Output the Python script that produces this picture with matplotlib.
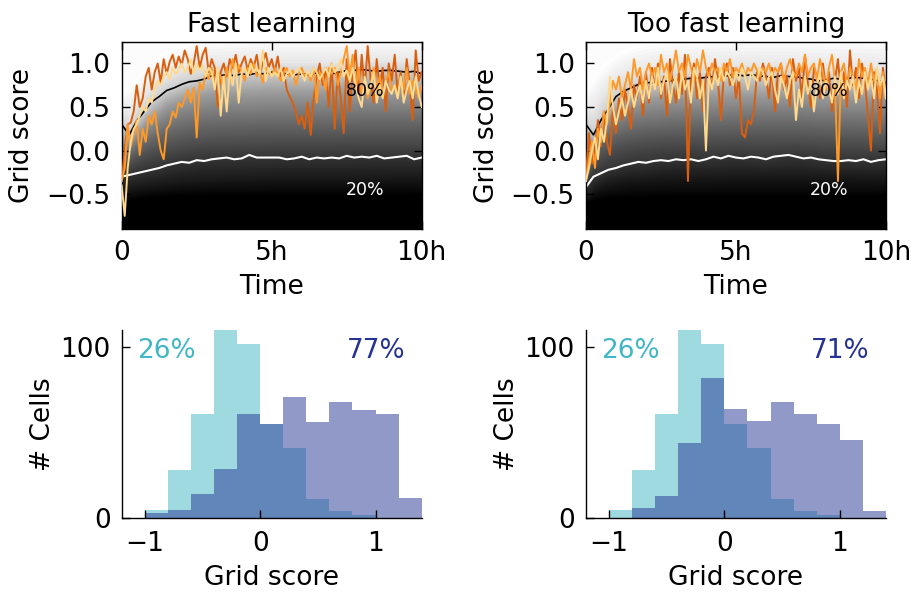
import matplotlib as mpl
mpl.use('Agg')
import matplotlib.pyplot as plt
import numpy as np

# ---- grid score traces of three example cells (every 0.1 h, 0..10 h)
fast_dark = [-0.35, 0.0, 0.3, 0.32, 0.45, 0.75, 0.5, 0.6, 0.85, 0.95, 0.7,
             0.9, 1.0, 0.78, 1.05, 0.88, 1.02, 1.1, 0.95, 1.08, 0.98,
             1.15, 1.05, 0.88, 1.0, 1.2, 0.95, 1.1, 1.18, 0.9, 1.05,
             0.95, 0.5, 0.9, 1.0, 0.85, 1.05, 0.95, 1.1, 0.9, 1.0,
             1.08, 0.92, 1.05, 0.95, 1.1, 0.88, 1.0, 1.12, 0.95, 1.05,
             0.9, 1.08, 0.85, 0.95, 0.7, 0.62, 0.55, 0.45, 0.3, 0.4,
             0.25, 0.55, 0.18, 0.6, 0.85, 1.0, 0.75, 0.95, 0.5, 1.0,
             0.25, 0.9, 0.6, 0.2, 1.05, 0.45, 0.9, 1.15, 0.6, 1.1,
             0.7, 1.2, 0.8, 0.55, 1.05, 0.7, 0.95, 0.45, 1.0, 0.8,
             1.1, 0.65, 0.9, 0.6, 1.05, 0.75, 0.35, 1.15, 0.8, 0.9]
fast_mid = [-0.35, -0.2, 0.3, 0.05, 0.2, 0.35, -0.05, 0.25, 0.1, 0.4, 0.3,
            0.45, 0.2, 0.0, -0.1, 0.25, 0.3, 0.45, 0.38, 0.55, 0.5,
            0.6, 0.7, 0.55, 0.72, 0.15, 0.78, 0.7, 0.9, 0.82, 0.95,
            0.75, 0.9, 0.85, 0.7, 0.95, 0.8, 1.05, 0.85, 0.98, 0.9,
            0.8, 0.95, 0.88, 1.0, 0.85, 0.92, 0.78, 0.95, 0.9, 0.85,
            0.95, 0.88, 0.8, 0.9, 0.95, 0.85, 0.92, 0.75, 0.88, 0.95,
            0.85, 0.9, 0.8, 0.95, 0.55, 0.9, 0.85, 0.7, 0.95, 0.88,
            0.95, 0.75, 0.9, 1.05, 1.2, 0.85, 1.1, 0.7, 0.95, 0.65,
            0.8, 0.6, 0.75, 0.95, 0.7, 0.85, 0.65, 0.78, 0.9, 0.7,
            0.75, 0.6, 0.85, 0.7, 0.95, 0.65, 0.8, 0.72, 0.6, 0.75]
fast_light = [-0.4, -0.75, -0.2, 0.1, 0.25, 0.3, 0.4, 0.5, 0.45, 0.6, 0.55,
              0.7, 0.8, 0.75, 0.85, 0.9, 0.82, 0.95, 0.88, 0.92, 1.0,
              0.9, 0.95, 1.05, 0.88, 1.0, 0.92, 0.98, 0.85, 0.95, 0.9,
              0.7, 0.95, 0.4, 0.85, 0.45, 0.9, 0.75, 1.0, 0.55, 0.9,
              0.95, 0.85, 1.0, 0.9, 0.95, 0.88, 1.15, 0.8, 0.95, 0.85,
              0.9, 0.85, 0.95, 0.8, 0.88, 0.92, 0.85, 0.9, 0.95, 0.88,
              0.8, 0.92, 0.85, 0.95, 0.9, 0.82, 0.88, 0.95, 0.85, 1.0,
              0.9, 0.95, 1.05, 0.85, 0.92, 0.8, 0.95, 0.75, 0.6, 0.5,
              0.85, 0.65, 0.75, 0.9, 0.55, 0.75, 0.6, 0.8, 0.7, 0.65,
              0.75, 0.6, 0.85, 0.55, 0.7, 0.8, 0.6, 0.85, 0.65, 0.5]

tfast_dark = [-0.3, 0.2, -0.15, 0.0, 0.35, 0.05, 0.45, 0.1, -0.05, 0.5, 0.2,
              0.6, 0.35, 0.7, 0.5, 0.25, 0.75, 0.6, 0.85, 0.4, 0.9,
              0.55, 0.95, 0.7, 1.0, 0.6, 0.85, 0.4, 1.05, 0.75, 0.55,
              0.9, 0.65, 1.1, -0.35, 0.8, 1.0, 0.6, 0.9, 0.45, 0.85,
              0.95, 0.7, 1.05, 0.8, 0.35, 0.9, 1.0, 0.75, 0.95, 0.6,
              0.85, 0.2, 0.15, 0.35, 0.3, 0.45, 0.9, 0.8, 1.0, 0.85,
              0.6, 0.95, 0.45, 0.9, 1.0, 0.7, 0.85, 0.5, 1.05, 0.8,
              0.95, 0.6, 1.1, 0.75, 0.5, 0.95, 0.85, 0.6, 1.0, 0.7,
              0.9, 0.45, 0.8, 1.05, 0.65, 0.9, 0.5, 1.15, 0.75, 0.95,
              0.6, 1.0, 0.8, 0.4, 0.0, 0.9, 0.7, 0.2, 0.95, 0.65]
tfast_mid = [-0.35, -0.1, 0.1, -0.2, 0.25, 0.1, 0.45, 0.3, 0.55, 0.8, 0.7,
             0.85, 0.6, 0.75, 0.9, 0.7, 1.05, 0.85, 0.95, 0.7, 0.9,
             1.0, 0.85, 0.95, 0.75, 1.1, 0.9, 1.0, 0.8, 0.95, 1.15,
             0.9, 1.0, 0.85, 1.1, 0.95, 0.8, 1.05, 0.9, 1.15, 0.95,
             0.85, 1.0, 0.9, 0.95, 0.8, 1.0, 0.9, 1.05, 0.85, 0.95,
             0.9, 1.0, 0.85, 0.95, 0.9, 1.0, 0.92, 0.85, 0.95, 0.9,
             1.0, 0.85, 0.95, 0.9, 1.0, 0.8, 0.95, 1.05, 0.9, 0.85,
             1.0, 0.9, 1.1, 0.85, 0.95, 1.0, 0.8, 1.05, 0.9, 0.7,
             0.95, 1.1, 0.8, -0.35, 0.9, 1.0, 0.75, 0.95, 0.85, 0.7,
             1.05, 0.85, 0.95, 0.75, 1.0, 0.8, 0.95, 0.6, 0.9, 0.6]
tfast_light = [-0.35, -0.2, 0.0, 0.15, -0.1, 0.25, 0.1, 0.35, 0.85, 0.5, 0.3,
               0.45, 0.6, 0.4, 0.55, 0.7, 0.5, 0.65, 0.75, 0.55, 0.8,
               0.6, 0.85, 0.7, 0.95, 0.65, 0.8, 0.9, 0.55, 0.75, 0.85,
               0.6, 0.9, 0.7, 0.8, 0.55, 0.95, 0.85, 0.6, 0.8, 0.0,
               0.85, 0.7, 0.9, 0.75, 0.95, 0.8, 0.9, 0.85, 0.75, 0.9,
               0.8, 0.95, 0.85, 0.7, 0.9, 0.85, 0.8, 0.95, 0.9, 0.75,
               0.85, 0.9, 0.7, 0.55, 0.85, 0.75, 0.6, 0.8, 0.9, 0.35,
               0.7, 0.5, 0.85, 0.65, 0.8, 0.45, 0.75, 0.9, 0.6, 0.8,
               0.7, 0.55, 0.85, 0.65, 0.9, 0.6, 0.8, 0.7, 0.85, 0.55,
               0.8, 0.65, 0.9, 0.7, 0.85, 0.6, 0.95, 0.75, 0.85, 0.6]

# ---- 80% / 20% percentile lines (every 0.25 h)
fast_p80 = [0.3, 0.18, 0.34, 0.45, 0.56, 0.62, 0.69, 0.72, 0.76, 0.79, 0.8,
            0.82, 0.86, 0.86, 0.87, 0.86, 0.88, 0.87, 0.89, 0.88, 0.9,
            0.89, 0.88, 0.87, 0.88, 0.87, 0.89, 0.88, 0.88, 0.9, 0.92,
            0.92, 0.93, 0.92, 0.91, 0.92, 0.92, 0.91, 0.9, 0.91, 0.88]
fast_p20 = [-0.3, -0.28, -0.26, -0.24, -0.22, -0.2, -0.17, -0.15, -0.13, -0.14, -0.11,
            -0.12, -0.1, -0.09, -0.08, -0.1, -0.09, -0.05, -0.08, -0.08, -0.08,
            -0.08, -0.1, -0.09, -0.07, -0.1, -0.08, -0.09, -0.08, -0.09, -0.06,
            -0.08, -0.07, -0.08, -0.06, -0.09, -0.08, -0.07, -0.06, -0.1, -0.08]
tfast_p80 = [0.3, 0.18, 0.35, 0.48, 0.62, 0.68, 0.72, 0.76, 0.78, 0.78, 0.79,
             0.8, 0.81, 0.82, 0.83, 0.83, 0.84, 0.85, 0.85, 0.86, 0.87,
             0.86, 0.87, 0.86, 0.85, 0.84, 0.86, 0.85, 0.85, 0.83, 0.82,
             0.8, 0.81, 0.83, 0.82, 0.83, 0.84, 0.83, 0.82, 0.8, 0.78]
tfast_p20 = [-0.42, -0.3, -0.26, -0.22, -0.2, -0.17, -0.15, -0.13, -0.14, -0.12, -0.11,
             -0.12, -0.1, -0.11, -0.1, -0.12, -0.1, -0.07, -0.09, -0.06, -0.08,
             -0.09, -0.07, -0.08, -0.1, -0.07, -0.06, -0.05, -0.07, -0.09, -0.08,
             -0.1, -0.11, -0.12, -0.12, -0.11, -0.12, -0.1, -0.13, -0.11, -0.1]

# ---- percentile bands 0,10,...,100 % of all cells
band_t = [0, 0.25, 0.5, 0.75, 1, 1.5, 2, 2.5, 3, 4, 5, 6, 7, 8, 9, 10]
fast_bands = [
    [-0.6, -0.58, -0.56, -0.55, -0.54, -0.53, -0.52, -0.52, -0.52, -0.52, -0.52, -0.52, -0.52, -0.52, -0.52, -0.52],
    [-0.45, -0.43, -0.41, -0.4, -0.39, -0.37, -0.35, -0.34, -0.33, -0.32, -0.31, -0.31, -0.31, -0.31, -0.3, -0.3],
    [-0.3, -0.27, -0.25, -0.23, -0.21, -0.17, -0.13, -0.11, -0.1, -0.09, -0.08, -0.08, -0.08, -0.07, -0.07, -0.07],
    [-0.2, -0.15, -0.1, -0.06, -0.03, 0.02, 0.06, 0.08, 0.09, 0.1, 0.11, 0.11, 0.11, 0.12, 0.12, 0.12],
    [-0.1, -0.04, 0.03, 0.08, 0.13, 0.2, 0.25, 0.28, 0.29, 0.3, 0.31, 0.31, 0.31, 0.32, 0.32, 0.32],
    [0.0, 0.04, 0.12, 0.19, 0.26, 0.36, 0.42, 0.45, 0.47, 0.48, 0.49, 0.49, 0.49, 0.5, 0.5, 0.49],
    [0.1, 0.1, 0.2, 0.29, 0.37, 0.5, 0.57, 0.61, 0.64, 0.65, 0.66, 0.66, 0.66, 0.67, 0.67, 0.66],
    [0.2, 0.14, 0.27, 0.37, 0.46, 0.6, 0.67, 0.71, 0.75, 0.77, 0.78, 0.77, 0.77, 0.8, 0.8, 0.77],
    [0.3, 0.18, 0.34, 0.45, 0.56, 0.69, 0.76, 0.8, 0.86, 0.88, 0.9, 0.88, 0.88, 0.92, 0.92, 0.88],
    [0.45, 0.4, 0.52, 0.62, 0.72, 0.85, 0.93, 0.97, 0.99, 1.0, 1.01, 1.01, 1.01, 1.03, 1.03, 1.01],
    [0.7, 0.75, 0.85, 0.95, 1.05, 1.15, 1.22, 1.26, 1.28, 1.3, 1.3, 1.3, 1.3, 1.3, 1.3, 1.3],
]
tfast_bands = [
    [-0.6, -0.58, -0.56, -0.55, -0.55, -0.54, -0.54, -0.54, -0.53, -0.53, -0.53, -0.53, -0.53, -0.53, -0.53, -0.53],
    [-0.55, -0.45, -0.4, -0.37, -0.35, -0.33, -0.32, -0.31, -0.3, -0.3, -0.29, -0.29, -0.29, -0.3, -0.3, -0.31],
    [-0.42, -0.3, -0.26, -0.22, -0.2, -0.15, -0.14, -0.11, -0.1, -0.1, -0.08, -0.1, -0.07, -0.11, -0.12, -0.1],
    [-0.3, -0.15, -0.07, -0.02, 0.02, 0.06, 0.08, 0.09, 0.1, 0.1, 0.11, 0.11, 0.11, 0.09, 0.08, 0.07],
    [-0.15, 0.0, 0.1, 0.15, 0.19, 0.24, 0.26, 0.27, 0.28, 0.29, 0.3, 0.3, 0.3, 0.28, 0.27, 0.26],
    [-0.02, 0.05, 0.2, 0.28, 0.34, 0.4, 0.43, 0.44, 0.45, 0.46, 0.47, 0.47, 0.47, 0.45, 0.44, 0.43],
    [0.1, 0.1, 0.27, 0.37, 0.46, 0.54, 0.58, 0.6, 0.61, 0.62, 0.63, 0.63, 0.63, 0.61, 0.61, 0.6],
    [0.2, 0.14, 0.31, 0.43, 0.54, 0.63, 0.68, 0.7, 0.72, 0.74, 0.75, 0.74, 0.74, 0.71, 0.72, 0.7],
    [0.3, 0.18, 0.35, 0.48, 0.62, 0.72, 0.78, 0.8, 0.81, 0.84, 0.87, 0.85, 0.85, 0.81, 0.83, 0.78],
    [0.45, 0.45, 0.6, 0.7, 0.8, 0.88, 0.92, 0.94, 0.95, 0.97, 0.99, 0.98, 0.98, 0.95, 0.96, 0.94],
    [0.7, 0.85, 0.98, 1.05, 1.12, 1.2, 1.25, 1.27, 1.28, 1.3, 1.3, 1.3, 1.3, 1.3, 1.3, 1.3],
]

# ---- histograms of grid scores
bin_edges = [-1.0, -0.8, -0.6, -0.4, -0.2, 0.0, 0.2, 0.4, 0.6, 0.8, 1.0, 1.2, 1.4]
before_counts = [5, 28, 61, 112, 102, 55, 41, 11, 4, 2, 0, 0]
fast_after = [3, 5, 14, 29, 61, 55, 71, 56, 68, 63, 61, 12]
tfast_after = [0, 6, 13, 44, 82, 64, 57, 68, 61, 55, 46, 4]

titles = ['Fast learning', 'Too fast learning']
after_pct = ['77%', '71%']
before_pct = ['26%', '26%']

c_dark, c_mid, c_light = '#d95f0e', '#fe9929', '#fed98e'
c_before, c_after = '#41b6c4', '#253494'

fs = 19
plt.rcParams['font.size'] = fs
plt.rcParams['axes.linewidth'] = 1.0

fig = plt.figure(figsize=(9.11, 5.92), dpi=100)
lefts = [0.1336, 0.6432]

traces = [(fast_dark, fast_mid, fast_light), (tfast_dark, tfast_mid, tfast_light)]
p80s = [fast_p80, tfast_p80]
p20s = [fast_p20, tfast_p20]
bands = [fast_bands, tfast_bands]
afters = [fast_after, tfast_after]
nsub = 8

for k in range(2):
    ax = fig.add_axes([lefts[k], 0.6132, 0.3293, 0.3164])
    b = np.array(bands[k])
    # grey ramp: paint from the lightest level down, each fill reaching the bottom
    ax.fill_between(band_t, -2, 2, color='#fcfcfc', lw=0, zorder=1)
    for i in range(len(b) - 2, -1, -1):
        for j in range(nsub - 1, -1, -1):
            hi = b[i] + (b[i + 1] - b[i]) * (j + 1) / nsub
            g = (i + (j + 0.5) / nsub) / 10.0
            ax.fill_between(band_t, -2, hi, color=plt.cm.gray(g), lw=0, zorder=1)
    ax.fill_between(band_t, -2, b[0], color='black', lw=0, zorder=1)

    tl = np.linspace(0, 10, len(p80s[k]))
    ax.plot(tl, p80s[k], color='black', lw=1.2, zorder=2)
    ax.plot(tl, p20s[k], color='white', lw=1.5, zorder=2)

    t = np.linspace(0, 10, len(traces[k][0]))
    for tr, c in zip(traces[k], [c_dark, c_mid, c_light]):
        ax.plot(t, tr, color=c, lw=1.4, zorder=3)

    ax.text(8.1, 0.68, '80%', fontsize=12.5, ha='center', va='center', color='black', zorder=4)
    ax.text(8.1, -0.45, '20%', fontsize=12.5, ha='center', va='center', color='white', zorder=4)

    ax.set_xlim(0, 10)
    ax.set_ylim(-0.9, 1.25)
    ax.set_xticks([0, 5, 10])
    ax.set_xticklabels(['0', '5h', '10h'])
    ax.set_yticks([-0.5, 0.0, 0.5, 1.0])
    ax.tick_params(direction='in', length=6, width=1, top=True, right=True, pad=8)
    ax.set_xlabel('Time', labelpad=6)
    ax.set_ylabel('Grid score', labelpad=8)
    ax.set_title(titles[k], fontsize=fs, pad=7)

    # histogram panel
    ax2 = fig.add_axes([lefts[k], 0.1245, 0.3293, 0.318])
    centers = np.array(bin_edges[:-1]) + 0.1
    ax2.hist(centers, bins=bin_edges, weights=before_counts, histtype='stepfilled',
             color=c_before, alpha=0.5, lw=0)
    ax2.hist(centers, bins=bin_edges, weights=afters[k], histtype='stepfilled',
             color=c_after, alpha=0.5, lw=0)
    ax2.set_xlim(-1.2, 1.4)
    ax2.set_ylim(0, 110)
    ax2.set_xticks([-1, 0, 1])
    ax2.set_yticks([0, 100])
    ax2.spines['top'].set_visible(False)
    ax2.spines['right'].set_visible(False)
    ax2.tick_params(direction='in', length=6, width=1, pad=8)
    ax2.tick_params(axis='x', pad=9)
    ax2.set_xlabel('Grid score', labelpad=6)
    ax2.set_ylabel('# Cells', labelpad=3)
    ax2.text(0.05, 0.89, before_pct[k], color=c_before, transform=ax2.transAxes,
             ha='left', va='center', fontsize=fs)
    ax2.text(0.945, 0.89, after_pct[k], color=c_after, transform=ax2.transAxes,
             ha='right', va='center', fontsize=fs)

fig.savefig('out.png', dpi=100)
